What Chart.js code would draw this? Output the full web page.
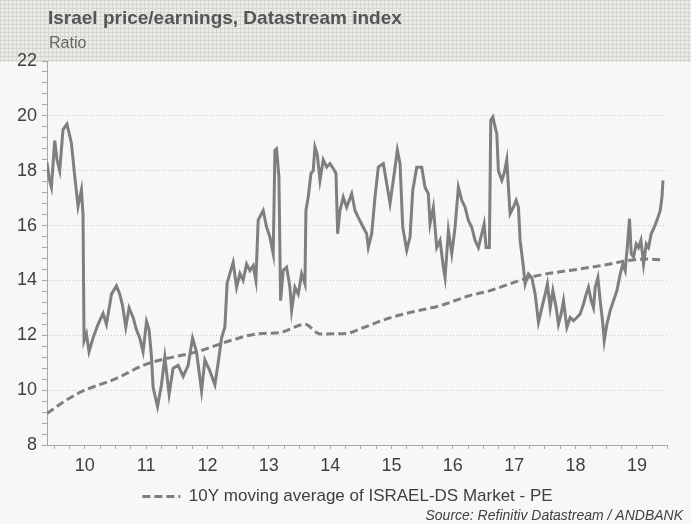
<!DOCTYPE html>
<html><head><meta charset="utf-8">
<script src="https://cdn.jsdelivr.net/npm/chart.js@4.4.1/dist/chart.umd.min.js"></script>
<style>html,body{margin:0;padding:0;background:#f7f7f7;}#wrap{width:691px;height:524px;position:relative;}</style>
</head><body><div id="wrap"><canvas id="c" width="691" height="524"></canvas></div>
<script>
const titleText = 'Israel price/earnings, Datastream index';
const subtitleText = 'Ratio';
const sourceText = 'Source: Refinitiv Datastream / ANDBANK';
const peLabel = 'ISRAEL-DS Market - PE';
const maLabel = '10Y moving average of ISRAEL-DS Market - PE';
const xTickLabels = ['10','11','12','13','14','15','16','17','18','19'];
const yTickLabels = [8,10,12,14,16,18,20,22];

const peDates = [2009.885,2009.921,2009.957,2010.011,2010.048,2010.092,2010.146,2010.211,2010.283,2010.337,2010.391,2010.446,2010.472,2010.489,2010.528,2010.570,2010.635,2010.717,2010.799,2010.854,2010.936,2011.017,2011.071,2011.115,2011.169,2011.223,2011.288,2011.343,2011.397,2011.451,2011.507,2011.549,2011.588,2011.614,2011.686,2011.751,2011.805,2011.875,2011.940,2012.022,2012.104,2012.185,2012.257,2012.322,2012.404,2012.458,2012.539,2012.621,2012.675,2012.730,2012.784,2012.821,2012.865,2012.919,2012.975,2013.029,2013.082,2013.138,2013.192,2013.246,2013.290,2013.327,2013.409,2013.464,2013.518,2013.572,2013.600,2013.627,2013.665,2013.692,2013.735,2013.790,2013.844,2013.872,2013.926,2013.980,2014.035,2014.089,2014.105,2014.143,2014.187,2014.224,2014.252,2014.290,2014.334,2014.387,2014.443,2014.497,2014.551,2014.595,2014.622,2014.660,2014.714,2014.769,2014.851,2014.905,2014.958,2015.040,2015.095,2015.122,2015.177,2015.231,2015.285,2015.366,2015.422,2015.476,2015.529,2015.595,2015.639,2015.683,2015.748,2015.802,2015.846,2015.911,2015.993,2016.046,2016.100,2016.128,2016.182,2016.237,2016.291,2016.345,2016.373,2016.427,2016.482,2016.536,2016.590,2016.645,2016.699,2016.753,2016.808,2016.862,2016.916,2016.971,2017.009,2017.042,2017.095,2017.118,2017.151,2017.188,2017.216,2017.242,2017.298,2017.335,2017.379,2017.405,2017.433,2017.487,2017.531,2017.569,2017.596,2017.650,2017.678,2017.732,2017.787,2017.841,2017.895,2017.950,2018.004,2018.041,2018.086,2018.130,2018.184,2018.221,2018.265,2018.303,2018.358,2018.412,2018.466,2018.521,2018.575,2018.629,2018.673,2018.710,2018.754,2018.792,2018.820,2018.864,2018.901,2018.939,2018.967,2019.010,2019.064,2019.118,2019.174,2019.228,2019.271,2019.309,2019.347,2019.379,2019.407,2019.445,2019.489,2019.526,2019.565,2019.608,2019.652,2019.689,2019.733,2019.782,2019.826,2019.880,2019.908,2019.924];
const peValues = [18.3,17.7,17.4,19.1,18.4,18.0,19.5,19.7,19.0,17.8,16.7,17.3,16.4,11.8,12.05,11.4,11.9,12.4,12.8,12.4,13.5,13.8,13.5,13.1,12.3,13.0,12.65,12.2,11.9,11.4,12.5,12.2,11.2,10.1,9.4,10.2,11.2,9.85,10.8,10.9,10.5,10.9,11.9,11.4,9.97,11.1,10.7,10.2,11.0,11.9,12.3,13.9,14.25,14.66,13.75,14.25,14.0,14.6,14.36,14.54,14.0,16.2,16.55,15.94,15.58,14.97,18.75,18.8,17.77,13.26,14.36,14.48,13.75,12.9,13.75,13.5,14.24,13.87,16.55,17.04,17.9,18.0,18.87,18.6,17.65,18.4,18.13,18.26,18.08,17.9,15.7,16.55,17.04,16.67,17.16,16.55,16.3,15.94,15.7,15.2,15.7,17.04,18.13,18.26,17.53,16.8,17.65,18.75,18.26,15.94,15.1,15.58,17.28,18.13,18.13,17.4,17.16,16.06,16.67,15.2,15.46,14.48,14.1,15.82,14.97,15.94,17.4,16.92,16.67,16.19,15.94,15.46,15.2,15.7,16.06,15.2,15.2,19.84,19.96,19.6,19.35,18.0,17.65,17.9,18.4,17.4,16.43,16.67,16.92,16.67,15.46,14.48,13.87,14.24,14.1,13.5,12.47,13.0,13.5,13.87,13.0,13.63,13.0,12.4,12.78,13.26,12.29,12.65,12.53,12.65,12.78,13.14,13.5,13.75,13.26,13.0,13.75,14.1,13.26,12.53,11.8,12.4,12.9,13.26,13.63,14.24,14.6,14.36,15.33,16.25,14.97,14.85,15.33,15.2,15.46,14.6,15.33,15.2,15.7,15.94,16.19,16.55,17.04,17.65];

const maDates = [2009.885,2010.174,2010.472,2010.989,2011.507,2012.376,2012.702,2012.865,2013.301,2013.681,2014.089,2014.280,2014.334,2014.769,2014.986,2015.422,2015.856,2016.291,2016.781,2017.107,2017.705,2018.032,2018.575,2019.064,2019.337,2019.608,2019.908];
const maValues = [9.15,9.6,9.97,10.4,10.95,11.43,11.68,11.8,12.05,12.1,12.4,12.1,12.05,12.07,12.23,12.6,12.86,13.08,13.45,13.63,14.08,14.24,14.42,14.6,14.72,14.78,14.75];

const FONT = "'Liberation Sans', Arial, sans-serif";
const GREY = '#7f7f7f';

function pairs(xs, ys){ return xs.map((x,i)=>({x:x, y:ys[i]})); }

function makePattern(ctx){
  const p = document.createElement('canvas'); p.width = 4; p.height = 4;
  const c = p.getContext('2d');
  c.fillStyle = '#ebebe8'; c.fillRect(0,0,4,4);
  c.fillStyle = '#d5d5d1'; c.fillRect(0,0,4,1); c.fillRect(0,0,1,4);
  return ctx.createPattern(p,'repeat');
}

const decor = {
  id:'decor',
  afterLayout(chart){
    if (chart.legend) { chart.legend.left += 14; chart.legend.right += 14; }
  },
  beforeDraw(chart){
    const ctx = chart.ctx;
    ctx.save();
    ctx.fillStyle = '#f7f7f7'; ctx.fillRect(0,0,chart.width,chart.height);
    ctx.fillStyle = makePattern(ctx); ctx.fillRect(0,0,chart.width,62);
    ctx.restore();
  },
  afterDraw(chart){
    const ctx = chart.ctx;
    ctx.save();
    ctx.textBaseline = 'alphabetic';
    ctx.textAlign = 'left';
    ctx.fillStyle = '#555555';
    ctx.font = 'bold 19px ' + FONT;
    ctx.fillText(titleText, 48, 24);
    ctx.fillStyle = '#666666';
    ctx.font = '16px ' + FONT;
    ctx.fillText(subtitleText, 49, 48);
    ctx.textAlign = 'right';
    ctx.fillStyle = '#404040';
    ctx.font = 'italic 14px ' + FONT;
    ctx.fillText(sourceText, 683, 520);
    ctx.restore();
  }
};

const isMajor = v => yTickLabels.some(t => Math.abs(t - v) < 1e-6);

new Chart(document.getElementById('c'), {
  type:'line',
  data:{
    datasets:[
      {label:peLabel, data:pairs(peDates,peValues), borderColor:GREY, backgroundColor:GREY, borderWidth:3, pointRadius:0, tension:0, fill:false},
      {label:maLabel, data:pairs(maDates,maValues), borderColor:GREY, backgroundColor:GREY, borderWidth:3, borderDash:[8,4], pointRadius:0, cubicInterpolationMode:'monotone', fill:false}
    ]
  },
  options:{
    responsive:false, animation:false, devicePixelRatio:1,
    layout:{padding:{top:61, left:0, right:24, bottom:9}},
    plugins:{
      title:{display:false}, tooltip:{enabled:false},
      legend:{position:'bottom',
        labels:{usePointStyle:true, pointStyle:'line', pointStyleWidth:38,
          color:'#404040', font:{family:FONT, size:17}, padding:10,
          generateLabels:chart=>{
            const items = Chart.defaults.plugins.legend.labels.generateLabels(chart);
            items.forEach(it=>{ const ds = chart.data.datasets[it.datasetIndex]; it.lineDash = ds.borderDash || []; it.lineWidth = ds.borderWidth; it.strokeStyle = ds.borderColor; it.pointStyle = 'line'; });
            return items.filter(it=>it.datasetIndex===1);
          }}}
    },
    scales:{
      x:{type:'linear', min:2009.885, max:2019.99,
        afterBuildTicks:s=>{ const t=[]; for(let q=0;q<=40;q++) t.push({value:2010+q*0.25}); s.ticks=t; },
        ticks:{autoSkip:false, maxRotation:0, minRotation:0, padding:6, color:'#404040', font:{family:FONT, size:18},
          callback:v=>{ const q=Math.round((v-2010)*4); return (q%4===2) ? xTickLabels[(q-2)/4] : ''; }},
        grid:{drawOnChartArea:false, drawTicks:true, tickLength:4, color:'#a8a8a8'},
        border:{color:'#a8a8a8', width:1},
        afterFit:s=>{ s.height = 33; }
      },
      y:{min:8, max:22,
        afterBuildTicks:s=>{ const t=[]; for(let i=0;i<=35;i++) t.push({value:+(8+i*0.4).toFixed(1)}); s.ticks=t; },
        ticks:{autoSkip:false, padding:5, color:'#404040', font:{family:FONT, size:18},
          callback:v=> isMajor(v) ? String(Math.round(v)) : ''},
        grid:{drawOnChartArea:true, drawTicks:true, tickLength:5,
          color:c=>{ const v=c.tick && c.tick.value; return (isMajor(v) && v>8 && v<22) ? '#c8c8c8' : 'rgba(0,0,0,0)'; },
          tickColor:'#a8a8a8', lineWidth:1},
        border:{color:'#a8a8a8', width:1, dash:[1,2]},
        afterFit:s=>{ s.width = 47; }
      }
    }
  },
  plugins:[decor]
});
</script></body></html>
